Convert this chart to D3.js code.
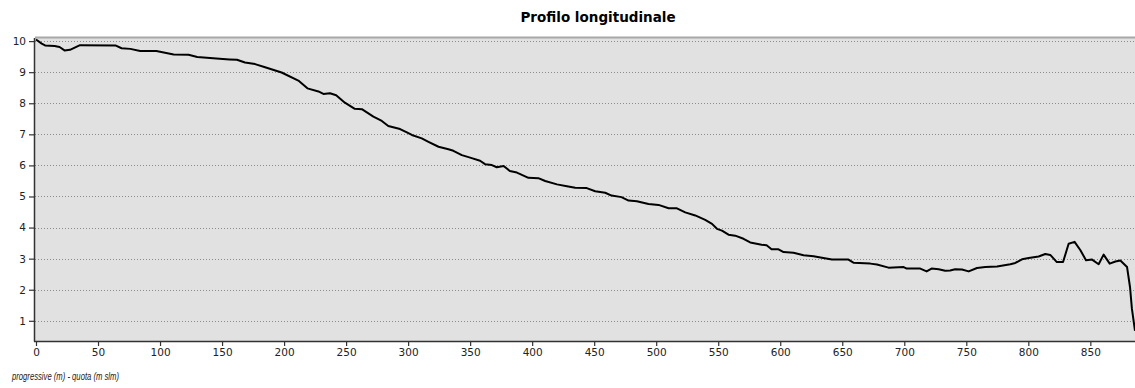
<!DOCTYPE html>
<html>
<head>
<meta charset="utf-8">
<script src="https://cdn.jsdelivr.net/npm/d3@7"></script>
<style>
  body { margin: 0; background: #fff; }
  svg { display: block; }
</style>
</head>
<body>
<script>
//Profile data: progressive (m) and quota (m slm)
const progressive = [
  0, 4.6, 7.3, 15, 19, 23, 27.4, 35.5, 64, 69, 76, 84, 97, 111, 123, 130, 148, 156,
  162, 168.5, 176.6, 184.7, 198, 211.5, 218.8, 227.7, 231.7, 237, 242, 249, 257,
  262.7, 272, 278.8, 284, 293.5, 299, 303, 311, 316.4, 324.5, 332.5, 336.5, 343.3,
  350, 358, 362, 367.5, 371.5, 377, 382, 387.7, 397, 405, 410.5, 420, 428, 434.7,
  444, 450.8, 458.9, 464, 472, 477.7, 484.4, 493.8, 501.9, 510, 516.7, 523.4,
  531.5, 539.5, 545, 549, 553, 558.3, 563.7, 570.4, 575.8, 585, 589, 593, 598.6,
  602.7, 610.7, 618.8, 626.9, 633.6, 641.7, 655, 659, 672.6, 678, 687.3, 699.5,
  702, 712.9, 718, 722, 727.7, 733, 737, 741, 746.5, 751.9, 758.6, 765.3, 774.8,
  785.5, 789.5, 794.9, 800.3, 808.3, 813.7, 817.7, 823, 828, 832.5, 837.3, 842,
  846.5, 851.4, 856.7, 860.7, 865.6, 870.2, 874.2, 879.6, 882, 883.5, 886
];
const quota = [
  10.05, 9.92, 9.86, 9.84, 9.81, 9.7, 9.72, 9.87, 9.86, 9.77, 9.75, 9.68, 9.68, 9.57,
  9.56, 9.49, 9.43, 9.41, 9.4, 9.31, 9.26, 9.16, 8.99, 8.73, 8.48, 8.38, 8.3, 8.32,
  8.26, 8.02, 7.82, 7.81, 7.57, 7.43, 7.27, 7.17, 7.06, 6.98, 6.87, 6.76, 6.6, 6.52,
  6.47, 6.33, 6.25, 6.15, 6.04, 6.01, 5.94, 5.98, 5.82, 5.77, 5.6, 5.59, 5.5, 5.39,
  5.33, 5.28, 5.27, 5.17, 5.12, 5.03, 4.98, 4.87, 4.85, 4.76, 4.73, 4.62, 4.62,
  4.49, 4.39, 4.25, 4.12, 3.96, 3.9, 3.77, 3.74, 3.64, 3.52, 3.45, 3.43, 3.3, 3.3,
  3.21, 3.19, 3.11, 3.08, 3.03, 2.97, 2.97, 2.87, 2.84, 2.81, 2.71, 2.73, 2.68,
  2.68, 2.59, 2.68, 2.66, 2.61, 2.62, 2.66, 2.65, 2.59, 2.7, 2.73, 2.75, 2.82,
  2.86, 2.98, 3.02, 3.07, 3.15, 3.12, 2.89, 2.89, 3.48, 3.54, 3.27, 2.95, 2.97,
  2.82, 3.13, 2.84, 2.91, 2.94, 2.73, 2.08, 1.39, 0.68
];
const xTicks = [0, 50, 100, 150, 200, 250, 300, 350, 400, 450, 500, 550, 600, 650, 700, 750, 800, 850];
const yTicks = [1, 2, 3, 4, 5, 6, 7, 8, 9, 10];

const title = "Profilo longitudinale";
const axisLabel = "progressive (m) - quota (m slm)";

//Canvas
const width = 1135;
const height = 388;
const plot = { left: 35, top: 38, right: 1135, bottom: 341 };

const svg = d3.select("body").append("svg").attr("width", width).attr("height", height);

//Scales
const xScale = d3.scaleLinear().domain([0, 886]).range([36, 1135]);
const yScale = d3.scaleLinear().domain([0.35, 10.1]).range([plot.bottom, plot.top]);

//Plot background
svg
  .append("rect")
  .attr("x", plot.left)
  .attr("y", plot.top)
  .attr("width", plot.right - plot.left)
  .attr("height", plot.bottom - plot.top)
  .attr("fill", "#e1e1e1");

//Grid lines
svg
  .append("g")
  .selectAll("line")
  .data(yTicks)
  .enter()
  .append("line")
  .attr("x1", plot.left)
  .attr("x2", plot.right)
  .attr("y1", (d) => Math.round(yScale(d)) + 0.5)
  .attr("y2", (d) => Math.round(yScale(d)) + 0.5)
  .attr("stroke", "#8c8c8c")
  .attr("stroke-dasharray", "1,2");

//Top border
svg
  .append("line")
  .attr("x1", plot.left)
  .attr("x2", plot.right)
  .attr("y1", plot.top - 0.5)
  .attr("y2", plot.top - 0.5)
  .attr("stroke", "#a8a8a8")
  .attr("stroke-width", 2);

//Axes
const xAxis = d3.axisBottom(xScale).tickValues(xTicks).tickSize(5).tickPadding(3).tickSizeOuter(0);
const yAxis = d3.axisLeft(yScale).tickValues(yTicks).tickSize(6).tickPadding(3).tickSizeOuter(0);

const gx = svg
  .append("g")
  .attr("transform", "translate(0," + plot.bottom + ")")
  .call(xAxis);

const gy = svg
  .append("g")
  .attr("transform", "translate(" + plot.left + ",0)")
  .call(yAxis);

[gx, gy].forEach((g) => {
  g.select(".domain").remove();
  g.selectAll(".tick line").attr("stroke", "#333").attr("stroke-width", 1.2);
  g.selectAll(".tick text")
    .attr("fill", "#222")
    .style("font-family", "'DejaVu Sans', sans-serif")
    .style("font-size", "10.5px");
});

//Axis lines
svg
  .append("line")
  .attr("x1", plot.left - 0.5)
  .attr("x2", plot.left - 0.5)
  .attr("y1", plot.top)
  .attr("y2", plot.bottom + 0.5)
  .attr("stroke", "#333")
  .attr("stroke-width", 1.5);
svg
  .append("line")
  .attr("x1", plot.left - 1)
  .attr("x2", plot.right)
  .attr("y1", plot.bottom + 0.5)
  .attr("y2", plot.bottom + 0.5)
  .attr("stroke", "#333")
  .attr("stroke-width", 1.5);

//Profile line
const points = progressive.map((p, i) => [p, quota[i]]);
const line = d3
  .line()
  .x((d) => xScale(d[0]))
  .y((d) => yScale(d[1]));

svg
  .append("path")
  .datum(points)
  .attr("d", line)
  .attr("fill", "none")
  .attr("stroke", "#000")
  .attr("stroke-width", 2)
  .attr("stroke-linejoin", "round");

//Title
svg
  .append("text")
  .attr("x", 598)
  .attr("y", 22)
  .attr("text-anchor", "middle")
  .style("font-family", "'DejaVu Sans', sans-serif")
  .style("font-weight", "bold")
  .style("font-size", "13.5px")
  .text(title);

//Axis caption
svg
  .append("text")
  .attr("x", 12)
  .attr("y", 380)
  .attr("textLength", 107)
  .attr("lengthAdjust", "spacingAndGlyphs")
  .style("font-family", "'Liberation Sans', Arial, sans-serif")
  .style("font-style", "italic")
  .style("font-size", "10.5px")
  .attr("fill", "#222")
  .text(axisLabel);
</script>
</body>
</html>
